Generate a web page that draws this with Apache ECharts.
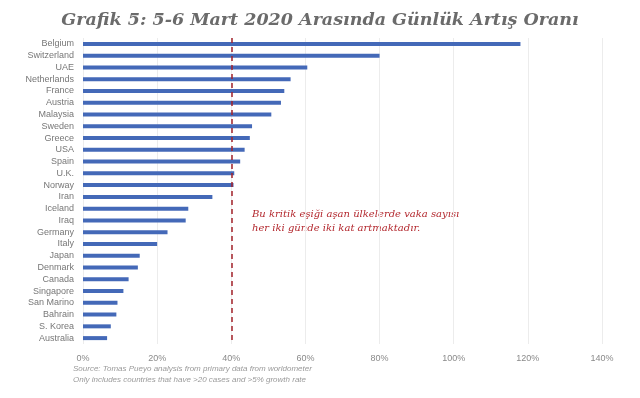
<!DOCTYPE html>
<html>
<head>
<meta charset="utf-8">
<script src="https://cdn.jsdelivr.net/npm/echarts@6/dist/echarts.min.js"></script>
<style>
  html, body { margin: 0; padding: 0; background: #fff; }
  #chart { width: 640px; height: 398px; }
</style>
</head>
<body>
<div id="chart"></div>
<script>
// ülkeler ve 5-6 Mart günlük artış oranı (%)
var countries = ['Belgium', 'Switzerland', 'UAE', 'Netherlands', 'France', 'Austria', 'Malaysia',
  'Sweden', 'Greece', 'USA', 'Spain', 'U.K.', 'Norway', 'Iran', 'Iceland', 'Iraq', 'Germany',
  'Italy', 'Japan', 'Denmark', 'Canada', 'Singapore', 'San Marino', 'Bahrain', 'S. Korea', 'Australia'];
var growth = [118, 80, 60.5, 56, 54.3, 53.4, 50.8, 45.6, 45, 43.6, 42.4, 40.8, 40.6,
  34.9, 28.4, 27.7, 22.8, 20, 15.3, 14.8, 12.3, 10.9, 9.3, 9, 7.5, 6.5];
var threshold = 40;
var xTicks = [0, 20, 40, 60, 80, 100, 120, 140];

var myChart = echarts.init(document.getElementById('chart'));

var option = {
  backgroundColor: '#fff',
  animation: false,
  title: {
    text: 'Grafik 5: 5-6 Mart 2020 Arasında Günlük Artış Oranı',
    left: 'center',
    top: 6,
    textStyle: {
      fontFamily: 'DejaVu Serif',
      fontStyle: 'italic',
      fontWeight: 'bold',
      fontSize: 17.5,
      color: '#6b6b6b'
    }
  },
  grid: {
    left: 83,
    right: 38,
    top: 38,
    bottom: 54
  },
  xAxis: {
    type: 'value',
    min: xTicks[0],
    max: xTicks[xTicks.length - 1],
    interval: 20,
    axisLine: { show: false },
    axisTick: { show: false },
    axisLabel: {
      margin: 10,
      color: '#8a8a8a',
      fontSize: 9,
      fontFamily: 'Liberation Sans',
      formatter: '{value}%'
    },
    splitLine: {
      lineStyle: { color: '#ececec', width: 1 }
    }
  },
  yAxis: {
    type: 'category',
    inverse: true,
    data: countries,
    axisLine: { show: false },
    axisTick: { show: false },
    axisLabel: {
      margin: 9,
      color: '#777',
      fontSize: 9,
      fontFamily: 'Liberation Sans'
    }
  },
  series: [{
    type: 'bar',
    data: growth,
    barWidth: 4,
    itemStyle: { color: '#4469b8' },
    markLine: {
      silent: true,
      symbol: 'none',
      label: { show: false },
      lineStyle: { color: '#a3222a', type: [5, 4], width: 1.5 },
      data: [{ xAxis: threshold }]
    }
  }],
  graphic: [
    {
      type: 'text',
      left: 252,
      top: 207,
      style: {
        text: 'Bu kritik eşiği aşan ülkelerde vaka sayısı\nher iki günde iki kat artmaktadır.',
        font: 'italic 10px "DejaVu Serif"',
        fill: '#b3282e',
        lineHeight: 14
      }
    },
    {
      type: 'text',
      left: 73,
      top: 363,
      style: {
        text: 'Source: Tomas Pueyo analysis from primary data from worldometer\nOnly includes countries that have >20 cases and >5% growth rate',
        font: 'italic 8px "Liberation Sans"',
        fill: '#9a9a9a',
        lineHeight: 11
      }
    }
  ]
};

myChart.setOption(option);
window.addEventListener('resize', function () {
  myChart.resize();
});
</script>
</body>
</html>
